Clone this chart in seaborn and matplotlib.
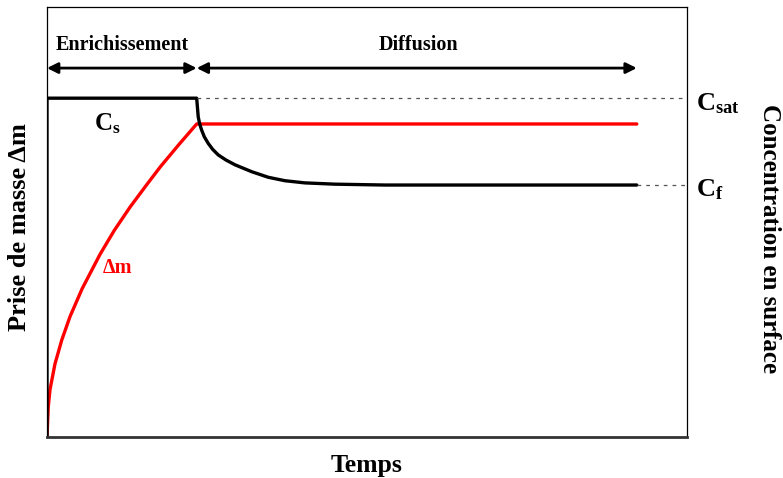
import matplotlib
matplotlib.use("Agg")
import matplotlib.pyplot as plt
import pandas as pd
import seaborn as sns

# Surface concentration (black) : enrichment plateau then diffusion decay
conc_t = [0.0, 0.0, 23.4, 23.5, 23.64, 23.85, 24.17, 24.6, 25.2, 25.9, 26.77, 28.0, 29.4,
          32.0, 34.6, 37.2, 40.3, 45.0, 52.8, 92.2]
conc_v = [0.0, 78.8, 78.8, 77.0, 74.5, 72.9, 71.4, 69.8, 68.3, 66.9, 65.6, 64.4, 63.3,
          61.7, 60.4, 59.6, 59.1, 58.8, 58.6, 58.6]

# Mass gain (red)
mass_t = [0.0, 0.2, 0.47, 1.25, 2.3, 3.6, 5.5, 8.3, 10.5, 13.0, 15.5, 17.7, 20.5, 23.4, 92.2]
mass_v = [0.0, 7.0, 11.0, 17.0, 22.5, 28.0, 34.5, 42.5, 48.0, 53.5, 58.5, 62.8, 67.8, 72.8, 72.8]

t_enrich_end = 23.4
t_diff_end = 92.2
c_sat = 78.8
c_f = 58.6

sns.set_style("white")
plt.rcParams["font.family"] = ["Liberation Serif", "DejaVu Serif"]
plt.rcParams["font.weight"] = "bold"
plt.rcParams["text.color"] = "black"
plt.rcParams["axes.labelcolor"] = "black"
plt.rcParams["mathtext.fontset"] = "custom"
plt.rcParams["mathtext.rm"] = "Liberation Serif:weight=bold"
plt.rcParams["mathtext.bf"] = "Liberation Serif:weight=bold"
plt.rcParams["mathtext.it"] = "Liberation Serif:weight=bold"
plt.rcParams["mathtext.default"] = "bf"

fig = plt.figure(figsize=(7.83, 4.78), dpi=100)
ax = fig.add_axes([0.060, 0.0858, 0.817, 0.8995])

conc_df = pd.DataFrame({"t": conc_t, "v": conc_v})
mass_df = pd.DataFrame({"t": mass_t, "v": mass_v})
sns.lineplot(data=mass_df, x="t", y="v", ax=ax, color="red", lw=2.4,
             sort=False, estimator=None)
sns.lineplot(data=conc_df, x="t", y="v", ax=ax, color="black", lw=2.4,
             sort=False, estimator=None)

# dotted guides to the right labels
ax.plot([t_enrich_end, 100], [c_sat, c_sat], color="#555555", lw=0.9, ls=(0, (3, 4)))
ax.plot([t_diff_end, 100], [c_f, c_f], color="#555555", lw=0.9, ls=(0, (3, 4)))

# phase arrows
arrow_y = 85.8
for a, b in [(0, t_enrich_end), (t_enrich_end, t_diff_end)]:
    ax.annotate("", xy=(b, arrow_y), xytext=(a, arrow_y),
                arrowprops=dict(arrowstyle="<|-|>", color="black", lw=2,
                                mutation_scale=16, shrinkA=0, shrinkB=0))

ax.text(11.7, 91.2, "Enrichissement", ha="center", va="center", fontsize=14.5, fontweight="bold")
ax.text(58.0, 91.2, "Diffusion", ha="center", va="center", fontsize=14.5, fontweight="bold")
ax.text(9.4, 72.8, r"$C_s$", ha="center", va="center", fontsize=18)
ax.text(11.0, 39.3, "Δm", ha="center", va="center", fontsize=14.5, color="red", fontweight="bold")
ax.text(101.5, 77.4, r"$C_{sat}$", ha="left", va="center", fontsize=19, clip_on=False)
ax.text(101.5, 57.4, r"$C_f$", ha="left", va="center", fontsize=19, clip_on=False)

ax.set_xlim(0, 100)
ax.set_ylim(0, 100)
ax.set_xticks([])
ax.set_yticks([])
ax.set_xlabel("Temps", fontsize=18.5, fontweight="bold", labelpad=12)
ax.set_ylabel("Prise de masse Δm", fontsize=19, fontweight="bold")
ax.yaxis.set_label_coords(-0.025, 0.488)

fig.text(0.983, 0.5, "Concentration en surface", rotation=-90, ha="center", va="center",
         fontsize=18, fontweight="bold")

for side in ["left", "top", "right"]:
    ax.spines[side].set_color("black")
    ax.spines[side].set_linewidth(0.9)
ax.spines["bottom"].set_color("#333333")
ax.spines["bottom"].set_linewidth(2)

fig.savefig("out.png", dpi=100)
